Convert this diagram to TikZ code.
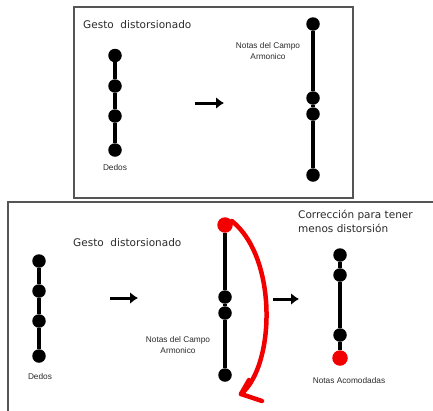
\documentclass[tikz,border=0pt]{standalone}
\usepackage{fontspec}
\setmainfont{DejaVu Sans}
\newfontfamily\labelfont{Liberation Sans}
\usetikzlibrary{arrows.meta}

\definecolor{frame}{HTML}{555555}
\definecolor{ink}{HTML}{2A2A2A}
\definecolor{hot}{HTML}{F20000}

\tikzset{
  dot/.style={circle, fill=black, inner sep=0pt, minimum size=13.5pt},
  reddot/.style={circle, fill=hot, inner sep=0pt, minimum size=15.5pt},
  stem/.style={line width=4pt, black},
  panel/.style={draw=frame, line width=1.3pt},
  title/.style={font=\fontsize{10.5}{13.5}\selectfont, text=ink, inner sep=0pt, align=left},
  tag/.style={font=\labelfont\fontsize{8.3}{11.5}\selectfont, text=ink, inner sep=0pt, align=center},
  goes/.style={line width=3pt, -{Latex[length=8pt,width=12pt]}},
  swing/.style={hot, line width=4.5pt, line cap=round, line join=round}
}

\begin{document}
\begin{tikzpicture}[x=1pt, y=-1pt]
\useasboundingbox (0,0) rectangle (433,410);

% frames
\draw[panel] (74,7) rectangle (353,198);
\begin{scope}
  \clip (0,0) rectangle (433,410);
  \draw[panel] (8,202) rectangle (445,425);
\end{scope}

% ---------- upper panel ----------
\node[title, anchor=west] (t1) at (83,25) {Gesto\ \ distorsionado};

\node[dot] (a1) at (115,55.5) {};
\node[dot] (a2) at (115,86) {};
\node[dot] (a3) at (115,116) {};
\node[dot] (a4) at (115,150) {};
\draw[stem] (a1) -- (a2) -- (a3) -- (a4);
\node[tag] (da) at (115,168) {Dedos};

\coordinate (p1) at (195,103);
\coordinate (p2) at (224,103);
\draw[goes] (p1) -- (p2);

\node[dot] (b1) at (313,24) {};
\node[dot] (b2) at (313,98) {};
\node[dot] (b3) at (313,114) {};
\node[dot] (b4) at (313,175) {};
\draw[stem] (b1) -- (b2) -- (b3) -- (b4);
\node[tag] (nb) at (268,51) {Notas del Campo\\Armonico};

% ---------- lower panel ----------
\node[title, anchor=west] (t2) at (73,243) {Gesto\ \ distorsionado};

\node[dot] (c1) at (39,261) {};
\node[dot] (c2) at (39,291) {};
\node[dot] (c3) at (39,321) {};
\node[dot] (c4) at (39,356) {};
\draw[stem] (c1) -- (c2) -- (c3) -- (c4);
\node[tag] (dc) at (40,377) {Dedos};

\coordinate (q1) at (110,298);
\coordinate (q2) at (138,298);
\draw[goes] (q1) -- (q2);

\node[reddot] (m1) at (225,225) {};
\node[dot] (m2) at (225,297) {};
\node[dot] (m3) at (225,313) {};
\node[dot] (m4) at (225,375) {};
\draw[stem] (m1) -- (m2) -- (m3) -- (m4);
\node[tag] (nm) at (178,345) {Notas del Campo\\Armonico};

% hand-drawn red sweep with an open barb at its end
\coordinate (rend) at (241,394);
\coordinate (barbA) at (249,380);
\coordinate (barbB) at (262,401);
\draw[swing] (m1.30) .. controls (278,258) and (275,366) .. (rend);
\draw[swing] (barbA) -- (rend) -- (barbB);

\coordinate (s1) at (273,299);
\coordinate (s2) at (299,299);
\draw[goes] (s1) -- (s2);

\node[title, anchor=north west] (t3) at (298,210) {Corrección para tener\\menos distorsión};

\node[dot] (k1) at (340,255) {};
\node[dot] (k2) at (340,275) {};
\node[dot] (k3) at (340,335) {};
\node[reddot] (k4) at (340,358) {};
\draw[stem] (k1) -- (k2) -- (k3) -- (k4);
\node[tag] (nk) at (349,381) {Notas Acomodadas};
\end{tikzpicture}
\end{document}
